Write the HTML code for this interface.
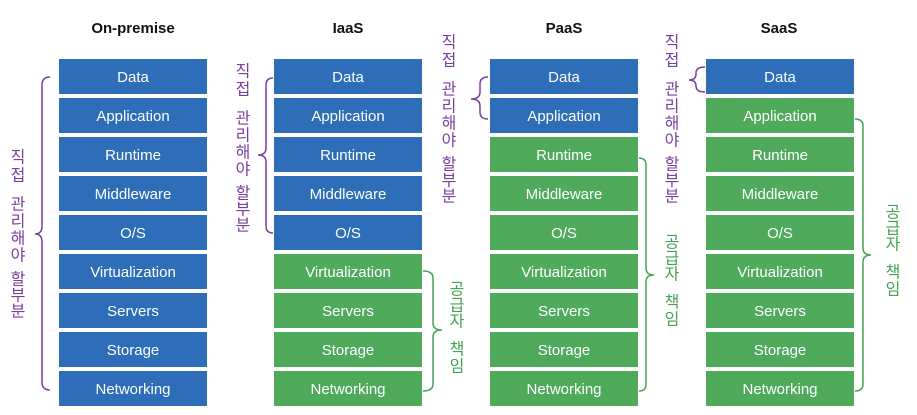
<!DOCTYPE html>
<html><head><meta charset="utf-8"><style>
html,body{margin:0;padding:0;background:#fff;width:917px;height:415px;overflow:hidden}
svg{display:block}
.h{font:bold 15px "Liberation Sans",sans-serif;fill:#111}
.b{font:15px "Liberation Sans",sans-serif;fill:#fff}
.k{font:16px "Liberation Sans","Noto Sans CJK KR",sans-serif}
.p{fill:#7A3E9D}.g{fill:#46A356}
</style></head><body>
<svg width="917" height="415" xmlns="http://www.w3.org/2000/svg">
<g text-anchor="middle">
<text class="h" x="133" y="33">On-premise</text>
<text class="h" x="348" y="33">IaaS</text>
<text class="h" x="564" y="33">PaaS</text>
<text class="h" x="779" y="33">SaaS</text>
</g>
<!-- boxes -->
<g id="boxes">
<!-- On-premise -->
<g fill="#2E6DB8">
<rect x="59" y="59" width="148" height="35"/><rect x="59" y="98" width="148" height="35"/><rect x="59" y="137" width="148" height="35"/><rect x="59" y="176" width="148" height="35"/><rect x="59" y="215" width="148" height="35"/><rect x="59" y="254" width="148" height="35"/><rect x="59" y="293" width="148" height="35"/><rect x="59" y="332" width="148" height="35"/><rect x="59" y="371" width="148" height="35"/>
<rect x="274" y="59" width="148" height="35"/><rect x="274" y="98" width="148" height="35"/><rect x="274" y="137" width="148" height="35"/><rect x="274" y="176" width="148" height="35"/><rect x="274" y="215" width="148" height="35"/>
<rect x="490" y="59" width="148" height="35"/><rect x="490" y="98" width="148" height="35"/>
<rect x="706" y="59" width="148" height="35"/>
</g>
<g fill="#4FAA5C">
<rect x="274" y="254" width="148" height="35"/><rect x="274" y="293" width="148" height="35"/><rect x="274" y="332" width="148" height="35"/><rect x="274" y="371" width="148" height="35"/>
<rect x="490" y="137" width="148" height="35"/><rect x="490" y="176" width="148" height="35"/><rect x="490" y="215" width="148" height="35"/><rect x="490" y="254" width="148" height="35"/><rect x="490" y="293" width="148" height="35"/><rect x="490" y="332" width="148" height="35"/><rect x="490" y="371" width="148" height="35"/>
<rect x="706" y="98" width="148" height="35"/><rect x="706" y="137" width="148" height="35"/><rect x="706" y="176" width="148" height="35"/><rect x="706" y="215" width="148" height="35"/><rect x="706" y="254" width="148" height="35"/><rect x="706" y="293" width="148" height="35"/><rect x="706" y="332" width="148" height="35"/><rect x="706" y="371" width="148" height="35"/>
</g>
</g>
<g text-anchor="middle" class="b">
<g transform="translate(133,0)"><text x="0" y="82">Data</text><text x="0" y="121">Application</text><text x="0" y="160">Runtime</text><text x="0" y="199">Middleware</text><text x="0" y="238">O/S</text><text x="0" y="277">Virtualization</text><text x="0" y="316">Servers</text><text x="0" y="355">Storage</text><text x="0" y="394">Networking</text></g>
<g transform="translate(348,0)"><text x="0" y="82">Data</text><text x="0" y="121">Application</text><text x="0" y="160">Runtime</text><text x="0" y="199">Middleware</text><text x="0" y="238">O/S</text><text x="0" y="277">Virtualization</text><text x="0" y="316">Servers</text><text x="0" y="355">Storage</text><text x="0" y="394">Networking</text></g>
<g transform="translate(564,0)"><text x="0" y="82">Data</text><text x="0" y="121">Application</text><text x="0" y="160">Runtime</text><text x="0" y="199">Middleware</text><text x="0" y="238">O/S</text><text x="0" y="277">Virtualization</text><text x="0" y="316">Servers</text><text x="0" y="355">Storage</text><text x="0" y="394">Networking</text></g>
<g transform="translate(780,0)"><text x="0" y="82">Data</text><text x="0" y="121">Application</text><text x="0" y="160">Runtime</text><text x="0" y="199">Middleware</text><text x="0" y="238">O/S</text><text x="0" y="277">Virtualization</text><text x="0" y="316">Servers</text><text x="0" y="355">Storage</text><text x="0" y="394">Networking</text></g>
</g>
<!-- brackets -->
<g fill="none" stroke-width="1.5">
<path stroke="#7A3E9D" d="M50,77 Q42,77 42,85 L42,226 Q42,234 35,234 Q42,234 42,242 L42,382 Q42,390 50,390"/>
<path stroke="#7A3E9D" d="M273,78 Q266,78 266,85 L266,148 Q266,155 258,155 Q266,155 266,162 L266,226 Q266,233 273,233"/>
<path stroke="#7A3E9D" d="M488,77 Q480,77 480,84 L480,92 Q480,99 471,99 Q480,99 480,106 L480,112 Q480,119 488,119"/>
<path stroke="#7A3E9D" d="M705,67 Q696,67 696,73 L696,74 Q696,80 689,80 Q696,80 696,86 L696,86 Q696,92 705,92"/>
<path stroke="#46A356" d="M423,271 Q433,271 433,278 L433,323 Q433,330 442,330 Q433,330 433,337 L433,384 Q433,391 423,391"/>
<path stroke="#46A356" d="M639,158 Q646,158 646,165 L646,268 Q646,275 654,275 Q646,275 646,282 L646,384 Q646,391 639,391"/>
<path stroke="#46A356" d="M855,119 Q863,119 863,126 L863,248 Q863,255 871,255 Q863,255 863,262 L863,384 Q863,391 855,391"/>
</g>
<!-- vertical labels -->
<g class="k p" text-anchor="middle" dominant-baseline="central">
<g transform="translate(18,0)"><text y="158">직</text><text y="176">접</text><text y="205">관</text><text y="222">리</text><text y="239">해</text><text y="256">야</text><text y="280">할</text><text y="296">부</text><text y="312">분</text></g>
<g transform="translate(243,-86)"><text y="158">직</text><text y="176">접</text><text y="205">관</text><text y="222">리</text><text y="239">해</text><text y="256">야</text><text y="280">할</text><text y="296">부</text><text y="312">분</text></g>
<g transform="translate(449,-115)"><text y="158">직</text><text y="176">접</text><text y="205">관</text><text y="222">리</text><text y="239">해</text><text y="256">야</text><text y="280">할</text><text y="296">부</text><text y="312">분</text></g>
<g transform="translate(672,-115)"><text y="158">직</text><text y="176">접</text><text y="205">관</text><text y="222">리</text><text y="239">해</text><text y="256">야</text><text y="280">할</text><text y="296">부</text><text y="312">분</text></g>
</g>
<g class="k g" text-anchor="middle" dominant-baseline="central">
<g transform="translate(457,0)"><text y="290">공</text><text y="306">급</text><text y="322">자</text><text y="350">책</text><text y="367">임</text></g>
<g transform="translate(672,-47)"><text y="290">공</text><text y="306">급</text><text y="322">자</text><text y="350">책</text><text y="367">임</text></g>
<g transform="translate(893,-77)"><text y="290">공</text><text y="306">급</text><text y="322">자</text><text y="350">책</text><text y="367">임</text></g>
</g>
</svg>
</body></html>
